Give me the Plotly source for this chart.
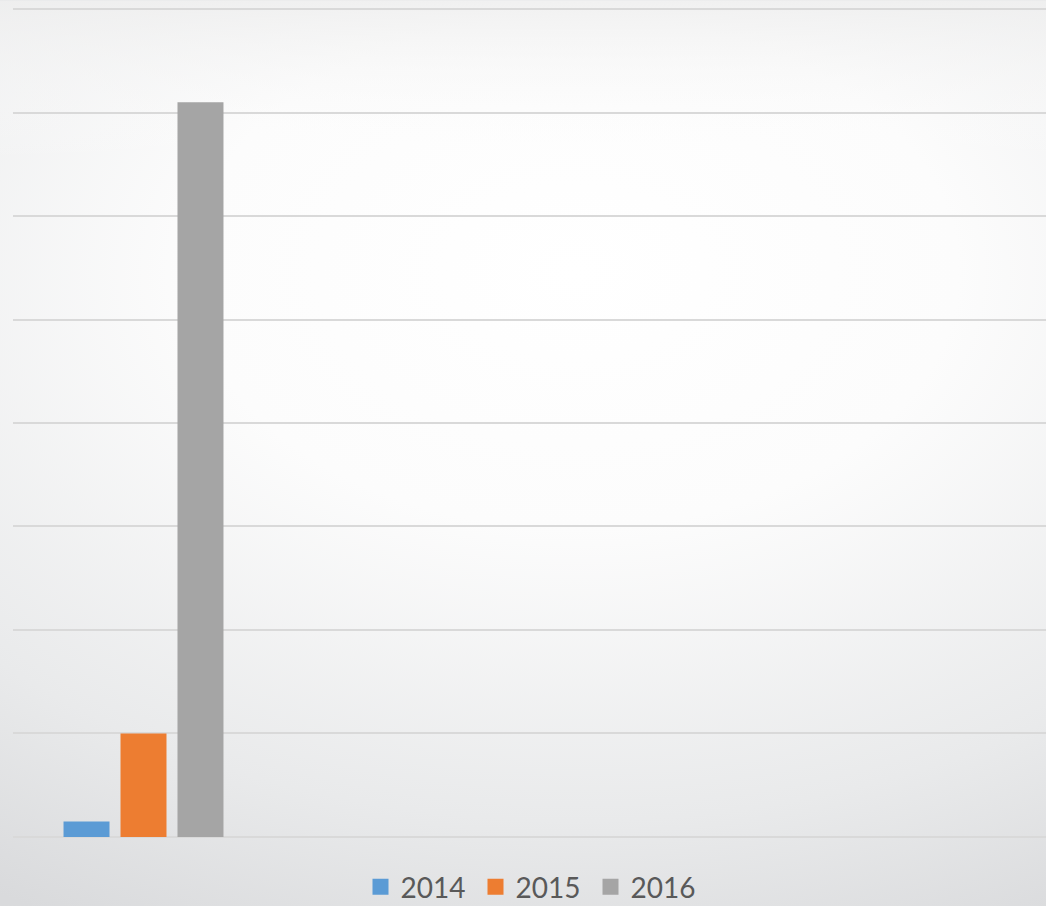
import base64
import plotly.graph_objects as go

# ---- data ----
categories = [0, 1, 2, 3]
series_names = ["2014", "2015", "2016"]
values_2014 = [0.15, None, None, None]
values_2015 = [1.0, None, None, None]
values_2016 = [7.1, None, None, None]
colors = ["#5b9bd5", "#ed7d31", "#a5a5a5"]

W, H = 1046, 906
ml, mr, mt, mb = 13, 0, 6.6, 67
pw, ph = W - ml - mr, H - mt - mb

# background gradient as inline SVG
svg = f'''<svg xmlns="http://www.w3.org/2000/svg" width="{W}" height="{H}" viewBox="0 0 {W} {H}" preserveAspectRatio="none">
<defs>
<radialGradient id="g" cx="0.55" cy="0.3" r="0.95" fx="0.55" fy="0.3" gradientTransform="translate(0.55 0.3) scale(1.1 0.85) translate(-0.55 -0.3)">
<stop offset="0" stop-color="#ffffff"/>
<stop offset="0.35" stop-color="#fcfcfc"/>
<stop offset="0.75" stop-color="#e9eaeb"/>
<stop offset="1" stop-color="#d9dadc"/>
</radialGradient>
<linearGradient id="t" x1="0" y1="0" x2="0" y2="1">
<stop offset="0" stop-color="#eeeeee" stop-opacity="0.8"/>
<stop offset="0.18" stop-color="#ffffff" stop-opacity="0"/>
</linearGradient>
</defs>
<rect width="{W}" height="{H}" fill="url(#g)"/>
<rect width="{W}" height="{H}" fill="url(#t)"/>
</svg>'''
src = "data:image/svg+xml;base64," + base64.b64encode(svg.encode()).decode()

fig = go.Figure()
for name, vals, c in zip(series_names, [values_2014, values_2015, values_2016], colors):
    fig.add_trace(go.Bar(x=categories, y=vals, name=name, marker=dict(color=c, line=dict(width=0)),
                         showlegend=False))
    fig.add_trace(go.Scatter(x=[None], y=[None], mode="markers", name=name,
                             marker=dict(symbol="square", size=18, color=c)))

fig.update_layout(
    width=W, height=H,
    margin=dict(l=ml, r=mr, t=mt, b=mb, pad=0),
    paper_bgcolor="#e6e7e8",
    plot_bgcolor="rgba(0,0,0,0)",
    barmode="group",
    bargap=0.345,
    bargroupgap=0.193,
    font=dict(family="Lato, Liberation Sans, sans-serif", color="#595959"),
    xaxis=dict(range=[-0.5, -0.5 + pw / 261.0], showticklabels=False, showgrid=False,
               zeroline=False, showline=False, ticks=""),
    yaxis=dict(range=[-0.02, 8.02], tick0=0, dtick=1, showticklabels=False, showgrid=True,
               gridcolor="#d9d9d9", gridwidth=2, zeroline=False, showline=False, ticks=""),
    legend=dict(orientation="h", x=0.5 + 10 / W, xanchor="center", xref="container",
                y=1 - 887 / H, yanchor="middle", yref="container",
                font=dict(size=28, color="#595959"), bgcolor="rgba(0,0,0,0)",
                entrywidth=70, entrywidthmode="pixels", itemsizing="trace",
                tracegroupgap=0),
    images=[dict(source=src, xref="paper", yref="paper", x=-ml / pw, y=1 + mt / ph,
                 sizex=W / pw, sizey=H / ph, sizing="stretch", layer="below",
                 xanchor="left", yanchor="top")],
)

fig.write_html("out.html", config={"displayModeBar": False},
               post_script="document.body.style.margin='0';document.body.style.overflow='hidden';")
